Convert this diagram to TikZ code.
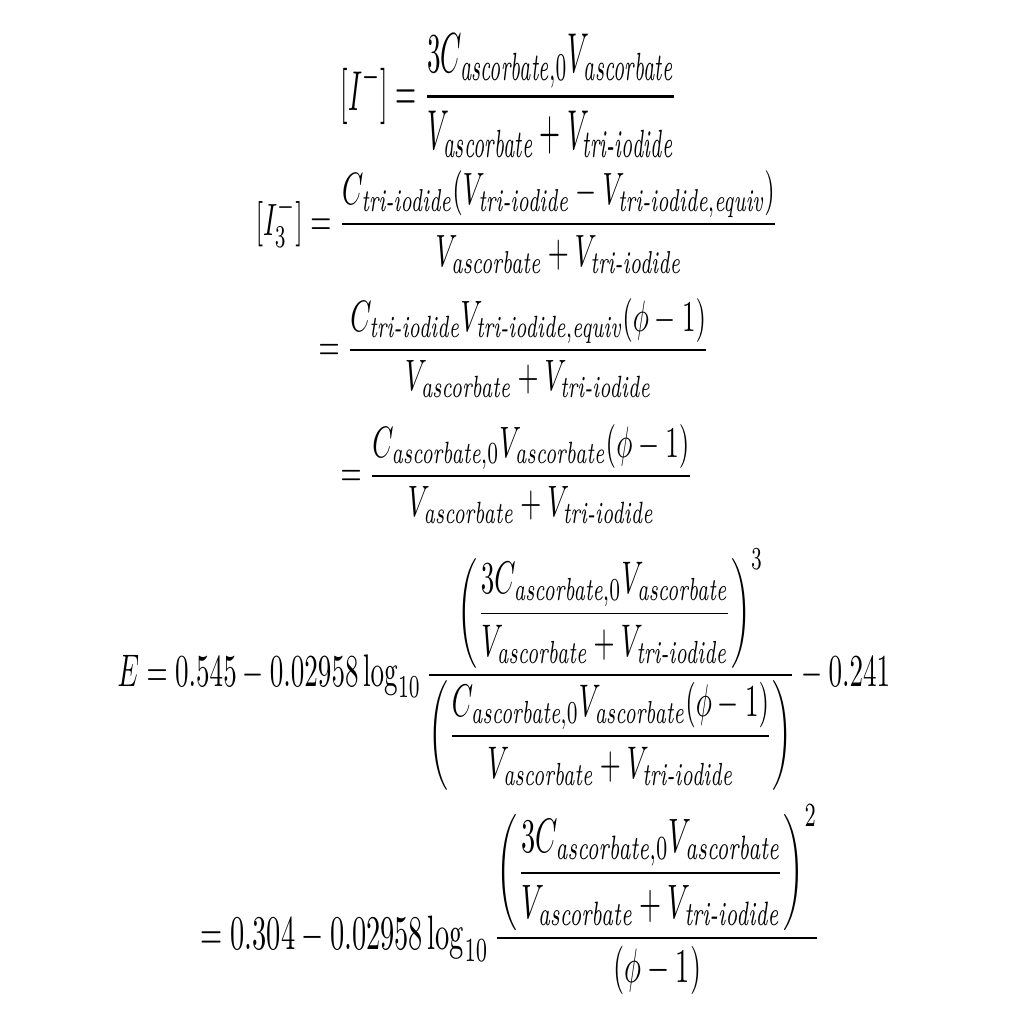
\documentclass[tikz,border=0pt]{standalone}
\usepackage{amsmath}
\usepackage{amssymb}
\usepackage{tikz}

\newcommand{\asc}{\textit{ascorbate}}
\newcommand{\tri}{\textit{tri-iodide}}
\newcommand{\ascz}{\textit{ascorbate},0}
\newcommand{\triq}{\textit{tri-iodide},\textit{equiv}}

\tikzset{eqn/.style={inner sep=0pt, anchor=west, xscale=0.77, yscale=1.25}}

\begin{document}
\begin{tikzpicture}
\useasboundingbox (0,0) rectangle (10.24,10.24);

% iodide
\node[eqn, yscale=1.28] (iodide) at (3.40,9.28)
  {$\displaystyle [I^-]=\frac{3C_{\ascz}V_{\asc}}{V_{\asc}+V_{\tri}}$};

% tri-iodide
\node[eqn, yscale=1.03] (triiodide) at (2.55,8.02)
  {$\displaystyle [I_3^-]=\frac{C_{\tri}(V_{\tri}-V_{\triq})}{V_{\asc}+V_{\tri}}$};
\node[eqn] (stepone) at (3.18,6.76)
  {$\displaystyle =\frac{C_{\tri}V_{\triq}(\phi-1)}{V_{\asc}+V_{\tri}}$};
\node[eqn] (steptwo) at (3.40,5.50)
  {$\displaystyle =\frac{C_{\ascz}V_{\asc}(\phi-1)}{V_{\asc}+V_{\tri}}$};

% potential
\node[eqn, yscale=1.04] (potential) at (1.17,3.54)
  {$\displaystyle E=0.545-0.02958\log_{10}\frac{\left(\dfrac{3C_{\ascz}V_{\asc}}{V_{\asc}+V_{\tri}}\right)^3}{\left(\dfrac{C_{\ascz}V_{\asc}(\phi-1)}{V_{\asc}+V_{\tri}}\right)}-0.241$};
\node[eqn, xscale=1.05, yscale=1.1] (final) at (2.00,1.24)
  {$\displaystyle =0.304-0.02958\log_{10}\frac{\left(\dfrac{3C_{\ascz}V_{\asc}}{V_{\asc}+V_{\tri}}\right)^2}{(\phi-1)}$};

\end{tikzpicture}
\end{document}
